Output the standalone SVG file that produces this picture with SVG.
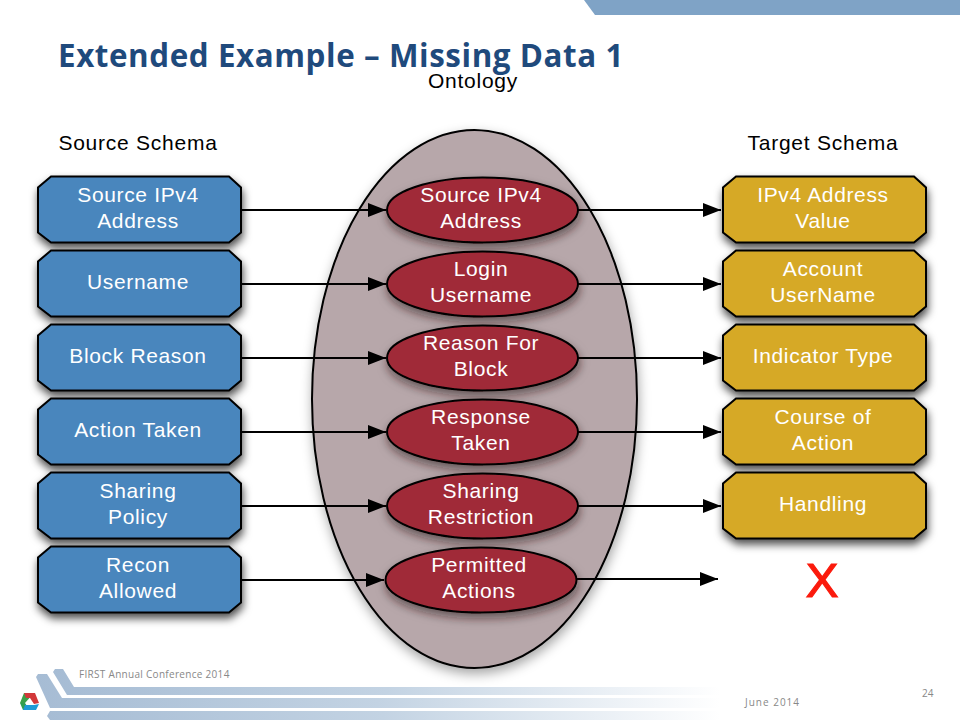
<svg xmlns="http://www.w3.org/2000/svg" width="960" height="720" viewBox="0 0 960 720">
<defs>
<filter id="sh" x="-20%" y="-30%" width="140%" height="170%"><feDropShadow dx="1" dy="5" stdDeviation="4" flood-color="#000" flood-opacity=".7"/></filter>
<filter id="sho" x="-20%" y="-30%" width="140%" height="170%"><feDropShadow dx="1" dy="5" stdDeviation="5" flood-color="#2a0a10" flood-opacity=".55"/></filter>
<filter id="she" x="-20%" y="-20%" width="140%" height="140%"><feDropShadow dx="1" dy="5" stdDeviation="6" flood-color="#000" flood-opacity=".35"/></filter>
<linearGradient id="fade" x1="0" x2="1" y1="0" y2="0"><stop offset="0" stop-color="#a6bcd4"/><stop offset=".5" stop-color="#c3d3e3"/><stop offset="1" stop-color="#ffffff"/></linearGradient>
<marker id="ah" markerUnits="userSpaceOnUse" markerWidth="18" markerHeight="16" refX="18" refY="8" orient="auto"><path d="M0 1L18 8L0 15Z" fill="#000"/></marker>
<polygon id="box" points="13,0 191,0 203,11 203,56 191,66 13,66 0,56 0,11"/>
</defs>
<style>
text{font-family:"Liberation Sans",Arial,sans-serif}
.n{font-size:21px;fill:#fff;text-anchor:middle;letter-spacing:.65px}
.h{font-size:21px;fill:#000;text-anchor:middle;letter-spacing:.75px}
.b use{fill:#4a86bd;stroke:#000;stroke-width:2;filter:url(#sh)}
.g use{fill:#d6a926;stroke:#000;stroke-width:2;filter:url(#sh)}
.e ellipse{fill:#a02a38;stroke:#000;stroke-width:2;filter:url(#sho)}
.c line{stroke:#000;stroke-width:2;marker-end:url(#ah)}
.f{font-family:"Open Sans",sans-serif;font-size:10px;fill:#888}
</style>
<rect width="960" height="720" fill="#fff"/>
<g id="decor">
<polygon points="584,0 960,0 960,15 595,15" fill="#7fa3c6"/>
<polygon points="55,669 63,669 74,687 720,687 720,695 67,695 53,672" fill="url(#fade)"/>
<polygon points="38,674 47,674 62,698 720,698 720,708 50,708 36,677" fill="url(#fade)"/>
<polygon points="50,711 720,711 720,720 50,720 47,716" fill="url(#fade)"/>
<polygon points="29.500,693 24,693 20,703 25,703 29.500,698" fill="#3aa04a"/>
<polygon points="20,703 25,703 27,706 25,710 23,710" fill="#2f9e52"/>
<polygon points="24,693 35,693 39,703 34,704 30,698 26,698" fill="#d2383a"/>
<polygon points="25,705 34,705 39,704 36,710 23,710" fill="#1e9ad6"/>
</g>
<text x="58" y="67" font-size="33" font-weight="700" fill="#1f4a7c" style="font-family:'Open Sans',sans-serif;letter-spacing:.6px" textLength="566" lengthAdjust="spacingAndGlyphs">Extended Example – Missing Data 1</text>
<text class="h" x="473" y="88">Ontology</text>
<text class="h" x="138" y="150">Source Schema</text>
<text class="h" x="823" y="150">Target Schema</text>
<g id="ontology"><ellipse cx="474.500" cy="399" rx="162.500" ry="269" fill="#b7a7aa" stroke="#000" stroke-width="2" filter="url(#she)"/></g>
<g id="connectors" class="c">
<line x1="242" y1="210" x2="386" y2="210"/>
<line x1="242" y1="284" x2="386" y2="284"/>
<line x1="242" y1="358" x2="386" y2="358"/>
<line x1="242" y1="432" x2="386" y2="432"/>
<line x1="242" y1="506" x2="386" y2="506"/>
<line x1="242" y1="580" x2="384" y2="580"/>
<line x1="578" y1="210" x2="721" y2="210"/>
<line x1="578" y1="284" x2="721" y2="284"/>
<line x1="578" y1="358" x2="721" y2="358"/>
<line x1="578" y1="432" x2="721" y2="432"/>
<line x1="578" y1="506" x2="721" y2="506"/>
<line x1="576" y1="579" x2="718" y2="579"/>
</g>
<g id="s1" class="b"><use href="#box" x="38" y="176.500"/><text class="n" x="138" y="202">Source IPv4</text><text class="n" x="138" y="228">Address</text></g>
<g id="s2" class="b"><use href="#box" x="38" y="250.500"/><text class="n" x="138" y="289">Username</text></g>
<g id="s3" class="b"><use href="#box" x="38" y="324.500"/><text class="n" x="138" y="363">Block Reason</text></g>
<g id="s4" class="b"><use href="#box" x="38" y="398.500"/><text class="n" x="138" y="437">Action Taken</text></g>
<g id="s5" class="b"><use href="#box" x="38" y="472.500"/><text class="n" x="138" y="498">Sharing</text><text class="n" x="138" y="524">Policy</text></g>
<g id="s6" class="b"><use href="#box" x="38" y="546.500"/><text class="n" x="138" y="572">Recon</text><text class="n" x="138" y="598">Allowed</text></g>
<g id="o1" class="e"><ellipse cx="482.500" cy="210" rx="95.500" ry="32.500"/><text class="n" x="481" y="202">Source IPv4</text><text class="n" x="481" y="228">Address</text></g>
<g id="o2" class="e"><ellipse cx="482.500" cy="284" rx="95.500" ry="32.500"/><text class="n" x="481" y="276">Login</text><text class="n" x="481" y="302">Username</text></g>
<g id="o3" class="e"><ellipse cx="482.500" cy="358" rx="95.500" ry="32.500"/><text class="n" x="481" y="350">Reason For</text><text class="n" x="481" y="376">Block</text></g>
<g id="o4" class="e"><ellipse cx="482.500" cy="432" rx="95.500" ry="32.500"/><text class="n" x="481" y="424">Response</text><text class="n" x="481" y="450">Taken</text></g>
<g id="o5" class="e"><ellipse cx="482.500" cy="506" rx="95.500" ry="32.500"/><text class="n" x="481" y="498">Sharing</text><text class="n" x="481" y="524">Restriction</text></g>
<g id="o6" class="e"><ellipse cx="481" cy="580" rx="95.500" ry="32.500"/><text class="n" x="479" y="572">Permitted</text><text class="n" x="479" y="598">Actions</text></g>
<g id="t1" class="g"><use href="#box" x="723" y="176.500"/><text class="n" x="823" y="202">IPv4 Address</text><text class="n" x="823" y="228">Value</text></g>
<g id="t2" class="g"><use href="#box" x="723" y="250.500"/><text class="n" x="823" y="276">Account</text><text class="n" x="823" y="302">UserName</text></g>
<g id="t3" class="g"><use href="#box" x="723" y="324.500"/><text class="n" x="823" y="363">Indicator Type</text></g>
<g id="t4" class="g"><use href="#box" x="723" y="398.500"/><text class="n" x="823" y="424">Course of</text><text class="n" x="823" y="450">Action</text></g>
<g id="t5" class="g"><use href="#box" x="723" y="472.500"/><text class="n" x="823" y="511">Handling</text></g>
<text x="822" y="597" font-size="49" fill="#fb1a0c" stroke="#fb1a0c" stroke-width="1.200" text-anchor="middle">X</text>
<text class="f" x="79" y="678" style="letter-spacing:.3px">FIRST Annual Conference 2014</text>
<text class="f" x="745" y="706" style="letter-spacing:1px">June 2014</text>
<text class="f" x="922" y="697">24</text>
</svg>
